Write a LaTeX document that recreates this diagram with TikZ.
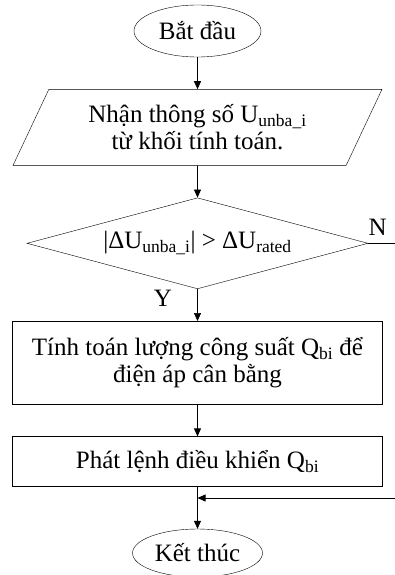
\documentclass[tikz,border=0pt]{standalone}
\usepackage{fontspec}
\setmainfont{Liberation Serif}
\usetikzlibrary{positioning,arrows.meta,shapes.geometric}

\begin{document}
\begin{tikzpicture}[
    x=1pt, y=1pt,
    node distance=32pt,
    every node/.style={font=\fontsize{25}{27}\selectfont},
    term/.style={draw, ellipse, inner sep=0pt, minimum width=127pt, minimum height=52pt},
    io/.style={draw, trapezium, trapezium left angle=60, trapezium right angle=120, trapezium stretches=true, minimum width=369pt, minimum height=76pt, align=center, inner sep=0pt},
    decide/.style={draw, diamond, aspect=3.75, inner sep=0pt, minimum width=341pt, minimum height=91pt},
    proc/.style={draw, rectangle, minimum width=370pt, align=center},
    arr/.style={-{Triangle[length=8pt,width=7pt]}, line width=0.7pt}
  ]
    \useasboundingbox (0,0) rectangle (395,-575);

    \node[term] (start) at (197.5,-31) {Bắt đầu};
    \node[io, below=of start] (input) {Nhận thông số U\textsubscript{unba\_i}\\từ khối tính toán.};
    \node[decide, below=of input] (check) {|ΔU\textsubscript{unba\_i}| > ΔU\textsubscript{rated}};
    \node[proc, minimum height=83pt, below=of check] (calc) {Tính toán lượng công suất Q\textsubscript{bi} để\\điện áp cân bằng};
    \node[proc, minimum height=50pt, below=of calc] (cmd) {Phát lệnh điều khiển Q\textsubscript{bi}};
    \node[term, minimum width=130pt, minimum height=48pt, below=42pt of cmd] (stop) {Kết thúc};

    % loop ends, cut at the right edge
    \path (check.east) ++(27,0) coordinate (nout);
    \coordinate (back) at (395,-498);
    \coordinate (join) at (cmd.south |- back);

    \draw[arr] (start) -- (input);
    \draw[arr] (input) -- (check);
    \draw[arr] (check) -- node[left=22pt, pos=0.3] {Y} (calc);
    \draw[line width=0.7pt] (check.east) -- node[above=4pt, pos=0.35] {N} (nout);
    \draw[arr] (calc) -- (cmd);
    \draw[arr] (cmd) -- (stop);
    \draw[arr] (back) -- (join);
  \end{tikzpicture}
\end{document}
